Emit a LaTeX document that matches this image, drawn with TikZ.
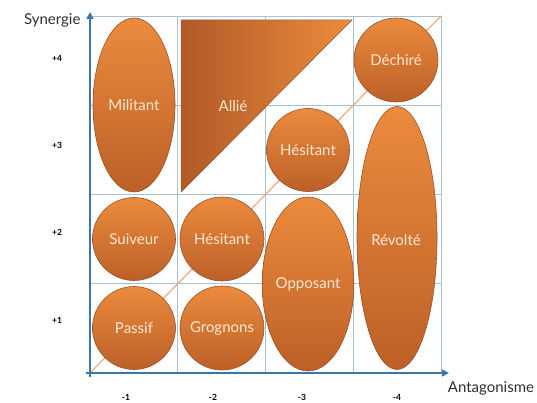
\documentclass[tikz,border=0pt]{standalone}
\usepackage{fontspec}
\setmainfont{Lato}
\usetikzlibrary{shapes.geometric,arrows.meta}

\definecolor{gridblue}{HTML}{A6C1D6}
\definecolor{axisblue}{HTML}{3B76A8}
\definecolor{orangetop}{HTML}{EC8B3D}
\definecolor{orangebot}{HTML}{BC6028}
\definecolor{orangedark}{HTML}{B05A27}
\definecolor{orangeedge}{HTML}{9A5026}
\definecolor{diagorange}{HTML}{EFAA7B}
\definecolor{labelcream}{HTML}{FCE8D4}
\definecolor{textgray}{HTML}{2F2F2F}

\tikzset{
            bubble/.style={circle, draw=orangeedge, line width=0.6pt,
                top color=orangetop, bottom color=orangebot,
                text=labelcream, font=\fontsize{15}{17}\selectfont, inner sep=0pt},
            oval/.style={bubble, ellipse},
            scalelabel/.style={font=\fontsize{8.5}{10}\selectfont\bfseries},
            axislabel/.style={font=\fontsize{15}{17}\selectfont, text=textgray}
        }

\begin{document}
\begin{tikzpicture}[x=1pt, y=1pt]
                \useasboundingbox (0,0) rectangle (537,403);
                % grid
                \foreach \i in {0,...,4} {
                    \draw[gridblue, line width=0.8pt] (90+87.75*\i,30) -- (90+87.75*\i,387);
                    \draw[gridblue, line width=0.8pt] (90,30+89.25*\i) -- (441,30+89.25*\i);
                }
                \coordinate (origin) at (90,30);
                \coordinate (corner) at (441,387);
                \coordinate (ystart) at (90,26);
                \coordinate (ytip) at (90,391);
                \coordinate (xstart) at (86,30);
                \coordinate (xtip) at (449,30);
                \draw[diagorange, line width=1.2pt] (origin) -- (corner);

                % Allie
                \filldraw[draw=orangeedge, line width=0.4pt, left color=orangedark, right color=orangetop]
                    (181,383) -- (352,383) -- (181,211) -- cycle;
                \node[text=labelcream, font=\fontsize{15}{17}\selectfont] (allie) at (233,297) {Allié};

                \node[oval, minimum width=82pt, minimum height=174pt] (militant) at (134,298) {Militant};
                \node[bubble, minimum size=84pt] (dechire) at (396,343) {Déchiré};
                \node[bubble, minimum size=83pt] (hesitanthaut) at (308,253) {Hésitant};
                \node[oval, minimum width=80pt, minimum height=263pt] (revolte) at (397,165) {};
                \node[text=labelcream, font=\fontsize{15}{17}\selectfont] at (396,163) {Révolté};
                \node[oval, minimum width=82pt, minimum height=174pt] (opposant) at (308,119) {Opposant};
                \node[bubble, minimum size=83pt] (suiveur) at (134,164) {Suiveur};
                \node[bubble, minimum size=84pt] (hesitantbas) at (222,164) {Hésitant};
                \node[bubble, minimum size=83pt] (passif) at (134,75) {Passif};
                \node[bubble, minimum size=84pt] (grognons) at (222,75) {Grognons};

                % axes
                \draw[axisblue, line width=1.6pt, -{Triangle[length=7pt, width=7pt]}] (ystart) -- (ytip);
                \draw[axisblue, line width=1.6pt, -{Triangle[length=7pt, width=7pt]}] (xstart) -- (xtip);

                \node[axislabel, anchor=east] (synergie) at (84,383) {Synergie};
                \node[axislabel] (antagonisme) at (491,15) {Antagonisme};
                \node[scalelabel] (p4) at (57,345) {+4};
                \node[scalelabel] (p3) at (57,258) {+3};
                \node[scalelabel] (p2) at (57,171) {+2};
                \node[scalelabel] (p1) at (57,83) {+1};
                \node[scalelabel] (m1) at (126,6) {-1};
                \node[scalelabel] (m2) at (213,6) {-2};
                \node[scalelabel] (m3) at (302,6) {-3};
                \node[scalelabel] (m4) at (397,6) {-4};
            \end{tikzpicture}
\end{document}
